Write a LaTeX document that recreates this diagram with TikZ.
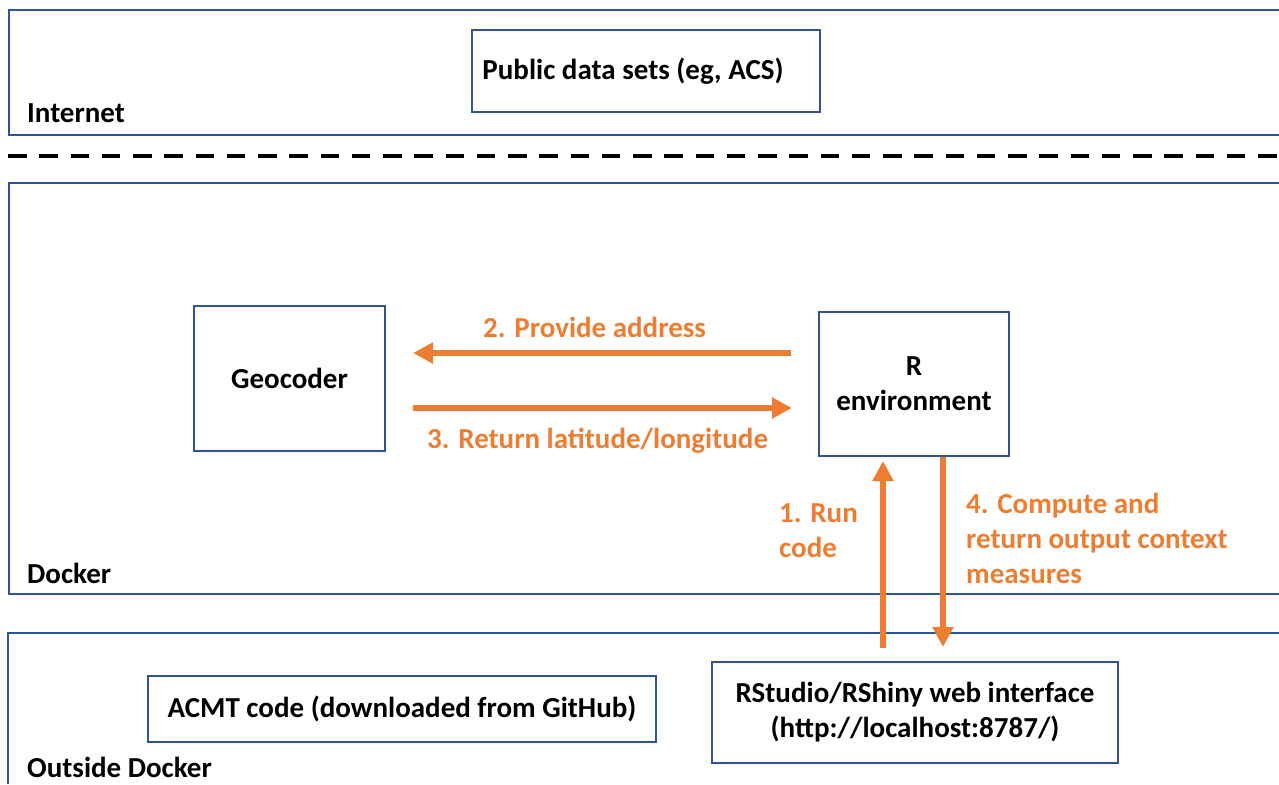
\documentclass[tikz,border=0pt]{standalone}
\usepackage{fontspec}
\setmainfont{Carlito}
\usetikzlibrary{arrows.meta}
\definecolor{frameblue}{HTML}{2F5597}
\definecolor{arrorange}{HTML}{ED7D31}
\begin{document}
\begin{tikzpicture}[x=1pt,y=-1pt,
  every node/.style={font=\fontsize{29}{35}\selectfont\bfseries, inner sep=0pt},
  frame/.style={draw=frameblue, line width=2.7pt},
  box/.style={draw=frameblue, line width=2.7pt, align=center},
  zonelabel/.style={anchor=base west},
  flow/.style={draw=arrorange, line width=6pt, -{Triangle[length=20pt,width=20pt]}},
  flowlabel/.style={text=arrorange, align=left}
]
\useasboundingbox (0,0) rectangle (1279,784);
% zone frames (extend beyond the right edge)
\draw[frame] (1279,10) -- (9,10) -- (9,135) -- (1279,135);
\draw[frame] (1279,183) -- (9,183) -- (9,594) -- (1279,594);
\draw[frame] (1279,633) -- (8,633) -- (8,784);
% dashed separator
\draw[line width=4pt, dash pattern=on 18.5pt off 12.75pt] (8,156) -- (1279,156);
% zone labels
\node[zonelabel] (linternet) at (27,122) {Internet};
\node[zonelabel] (ldocker) at (27,583) {Docker};
\node[zonelabel] (loutside) at (27,777) {Outside Docker};
% boxes
\node[box, minimum width=348pt, minimum height=82pt] (public) at (646,71) {};
\node (publictxt) at (633,71) {Public data sets (eg, ACS)};
\node[box, minimum width=191pt, minimum height=145pt] (geo) at (289.5,378.5) {Geocoder};
\node[box, minimum width=190pt, minimum height=144pt] (renv) at (914,384) {R\\environment};
\node[box, minimum width=508pt, minimum height=66pt] (acmt) at (402,709) {ACMT code (downloaded from GitHub)};
\node[box, minimum width=406pt, minimum height=101pt] (rstudio) at (915,712.5) {RStudio/RShiny web interface\\(http://localhost:8787/)};
% arrows
\coordinate (a2s) at (792,353);
\coordinate (a2e) at (413,353);
\coordinate (a3s) at (413,408);
\coordinate (a3e) at (792,408);
\draw[flow] (renv.west |- a2s) ++(-27,0) -- (a2e);
\draw[flow] (a3s) -- (a3e);
\draw[flow] (rstudio.north -| 883,0) ++(0,-13) -- (883,461);
\draw[flow] (renv.south -| 943,0) -- (943,647);
% arrow labels
\node[flowlabel, anchor=base west] (l2) at (483,337) {2. Provide address};
\node[flowlabel, anchor=base west] (l3) at (427,448) {3. Return latitude/longitude};
\node[flowlabel, anchor=north west] (l1) at (779,503) {1. Run\\code};
\node[flowlabel, anchor=north west] (l4) at (966,493) {4. Compute and\\return output context\\measures};
\end{tikzpicture}
\end{document}
